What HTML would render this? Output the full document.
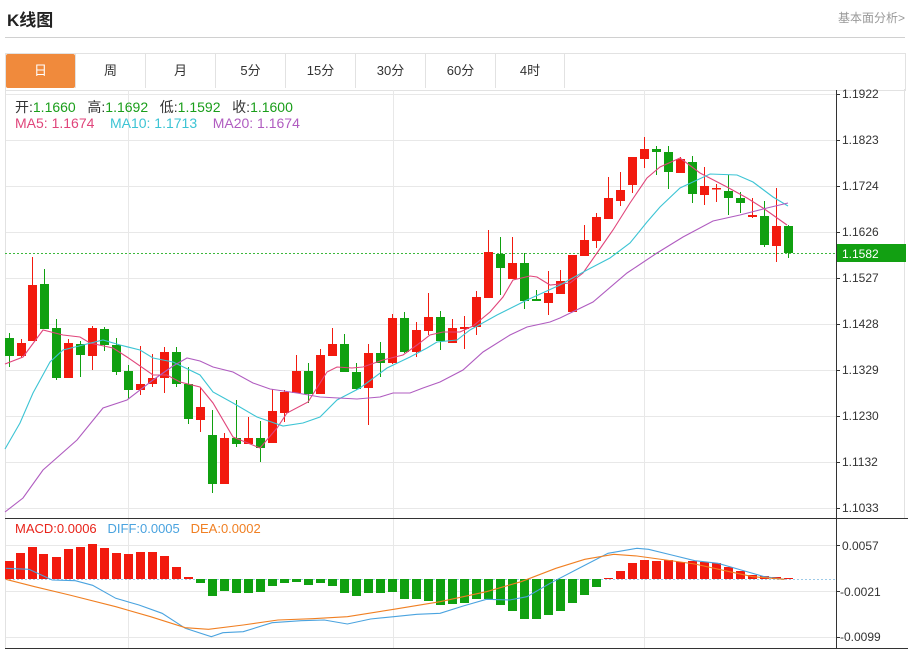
<!DOCTYPE html>
<html><head><meta charset="utf-8"><style>
body{margin:0;background:#fff;width:908px;height:651px;overflow:hidden;font-family:"Liberation Sans","Noto Sans CJK SC",sans-serif;}
.abs{position:absolute;white-space:nowrap}
</style></head><body>
<div style="position:relative;width:908px;height:651px">
<div class="abs" style="left:7px;top:6px;font-size:17px;font-weight:bold;color:#222">K线图</div>
<div class="abs" style="right:3px;top:9px;font-size:12px;color:#999">基本面分析&gt;</div>
<div class="abs" style="left:5px;top:37px;width:900px;height:1px;background:#d0d0d0"></div>
<div class="abs" style="left:5px;top:53px;width:899px;height:36px;border:1px solid #e2e2e2;border-bottom:1px solid #e2e2e2"></div>
<div class="abs" style="left:6px;top:54px;width:69px;height:34px;background:#f08a3c;border-radius:2px;color:#fff;font-size:13px;line-height:34px;text-align:center">日</div>
<div class="abs" style="left:75px;top:54px;font-size:13px;color:#333;line-height:34px;display:flex">
<div style="width:70px;text-align:center;border-left:1px solid #e2e2e2;box-sizing:border-box">周</div>
<div style="width:70px;text-align:center;border-left:1px solid #e2e2e2;box-sizing:border-box">月</div>
<div style="width:70px;text-align:center;border-left:1px solid #e2e2e2;box-sizing:border-box">5分</div>
<div style="width:70px;text-align:center;border-left:1px solid #e2e2e2;box-sizing:border-box">15分</div>
<div style="width:70px;text-align:center;border-left:1px solid #e2e2e2;box-sizing:border-box">30分</div>
<div style="width:70px;text-align:center;border-left:1px solid #e2e2e2;box-sizing:border-box">60分</div>
<div style="width:70px;text-align:center;border-left:1px solid #e2e2e2;border-right:1px solid #e2e2e2;box-sizing:border-box">4时</div>
</div>
<svg class="abs" style="left:0;top:0" width="908" height="651" id="s">
<g stroke="#e8e8e8" stroke-width="1" id="grid"></g>
<line x1="5.5" y1="89" x2="5.5" y2="648" stroke="#e2e2e2"/>
<line x1="904.5" y1="89" x2="904.5" y2="518" stroke="#e2e2e2"/>
<line x1="836.5" y1="90" x2="836.5" y2="648" stroke="#333"/>
<line x1="5" y1="518.5" x2="908" y2="518.5" stroke="#333"/>
<line x1="5" y1="648.5" x2="908" y2="648.5" stroke="#333"/>
<g id="ticks" stroke="#333"></g>
<line x1="5" y1="253.5" x2="836" y2="253.5" stroke="#3cb83c" stroke-dasharray="2,2"/>
<line x1="5" y1="579.5" x2="836" y2="579.5" stroke="#9ecbe8" stroke-dasharray="2,2"/>
<g id="macd"></g>
<g id="candles"></g>
<g id="lines" fill="none" stroke-width="1.1"></g>
<rect x="837" y="244" width="69" height="18" fill="#12a012"/>
<g font-size="12" fill="#333" font-family="Liberation Sans, sans-serif">
<text x="842" y="98">1.1922</text><text x="842" y="144">1.1823</text><text x="842" y="190">1.1724</text>
<text x="842" y="236">1.1626</text><text x="842" y="282">1.1527</text><text x="842" y="328">1.1428</text>
<text x="842" y="374">1.1329</text><text x="842" y="420">1.1230</text><text x="842" y="466">1.1132</text>
<text x="842" y="512">1.1033</text>
<text x="842" y="258" fill="#fff">1.1582</text>
<text x="842" y="550">0.0057</text><text x="840" y="596">-0.0021</text><text x="840" y="641">-0.0099</text>
</g>
</svg>
<div class="abs" style="left:15px;top:97px;font-size:14px;color:#333">开:<span style="color:#1a9e1a">1.1660</span>&nbsp;&nbsp; 高:<span style="color:#1a9e1a">1.1692</span>&nbsp;&nbsp; 低:<span style="color:#1a9e1a">1.1592</span>&nbsp;&nbsp; 收:<span style="color:#1a9e1a">1.1600</span></div>
<div class="abs" style="left:15px;top:115px;font-size:14px"><span style="color:#e0457b">MA5: 1.1674</span>&nbsp;&nbsp;&nbsp; <span style="color:#3cc4d4">MA10: 1.1713</span>&nbsp;&nbsp;&nbsp; <span style="color:#b05cc0">MA20: 1.1674</span></div>
<div class="abs" style="left:15px;top:521px;font-size:13px"><span style="color:#e8231a">MACD:0.0006</span>&nbsp;&nbsp; <span style="color:#4aa3df">DIFF:0.0005</span>&nbsp;&nbsp; <span style="color:#f07f22">DEA:0.0002</span></div>
</div>
<script>
var NS="http://www.w3.org/2000/svg";
function el(p,t,a){var e=document.createElementNS(NS,t);for(var k in a)e.setAttribute(k,a[k]);document.getElementById(p).appendChild(e);return e;}
[94,140,186,232,278,324,370,416,462,508,545,591,637].forEach(function(y){el("grid","line",{x1:5,x2:836,y1:y+.5,y2:y+.5});el("ticks","line",{x1:836,x2:840,y1:y+.5,y2:y+.5});});
[128,393,644].forEach(function(x){el("grid","line",{x1:x+.5,x2:x+.5,y1:90,y2:648});});
var C=[[9,'g',338,356,333,367],[21,'r',343,356,339,358],[32,'r',285,341,257,341],[44,'g',284,329,269,329],[56,'g',328,378,319,380],[68,'r',343,378,339,378],[80,'g',344,355,341,377],[92,'r',328,356,326,370],[104,'g',329,345,327,351],[116,'g',345,372,338,375],[128,'g',371,390,365,399],[140,'r',384,390,346,395],[152,'r',378,384,354,387],[164,'r',352,378,347,393],[176,'g',352,384,347,387],[188,'g',384,419,367,424],[200,'r',407,420,388,432],[212,'g',435,484,410,493],[224,'r',438,484,433,484],[236,'g',438,444,400,447],[248,'r',438,444,417,444],[260,'g',438,448,421,462],[272,'r',411,443,389,443],[284,'r',392,413,390,422],[296,'r',371,393,355,393],[308,'g',371,394,363,403],[320,'r',355,394,349,394],[332,'r',344,356,328,356],[344,'g',344,372,334,372],[356,'g',372,389,363,390],[368,'r',353,388,344,425],[380,'g',353,363,342,377],[392,'r',318,363,314,364],[404,'g',318,352,312,353],[416,'r',330,352,322,357],[428,'r',317,331,293,335],[440,'g',317,341,311,350],[452,'r',328,343,319,343],[464,'r',327,329,316,349],[476,'r',297,327,291,335],[488,'r',252,298,230,298],[500,'g',254,268,237,295],[512,'r',263,279,237,279],[524,'g',263,301,253,309],[536,'g',299,301,290,301],[548,'r',293,303,271,315],[560,'r',281,294,270,294],[572,'r',255,312,255,312],[584,'r',240,256,225,256],[596,'r',217,241,213,248],[608,'r',198,219,177,219],[620,'r',190,201,172,206],[632,'r',157,185,157,193],[644,'r',149,159,137,168],[656,'g',149,152,146,175],[668,'g',152,172,146,189],[680,'r',159,173,157,173],[692,'g',162,194,156,203],[704,'r',186,195,167,205],[716,'r',188,189,184,202],[728,'g',191,198,175,215],[740,'g',198,203,192,213],[752,'r',215,217,198,218],[764,'g',216,245,201,247],[776,'r',226,246,188,262],[788,'g',226,253,225,258]];
C.forEach(function(c){var col=c[1]=='r'?'#f21a0e':'#10a010';
el("candles","line",{x1:c[0]+.5,x2:c[0]+.5,y1:c[4],y2:c[5],stroke:col});
el("candles","rect",{x:c[0]-4,y:c[2],width:9,height:Math.max(1.5,c[3]-c[2]),fill:col});});
var M=[[9,561],[20,553],[32,547],[43,554],[56,557],[68,549],[80,547],[92,544],[104,548],[116,553],[128,554],[140,552],[152,552],[164,556],[176,567],[188,577],[200,583],[212,596],[224,591],[236,593],[248,593],[260,592],[272,586],[284,583],[296,582],[308,585],[320,583],[332,586],[344,593],[356,596],[368,593],[380,593],[392,592],[404,599],[416,599],[428,601],[440,605],[452,604],[464,603],[476,599],[488,599],[500,605],[512,611],[524,619],[536,619],[548,615],[560,611],[572,603],[584,595],[596,587],[608,578],[620,571],[632,563],[644,560],[656,561],[668,560],[680,562],[692,561],[704,562],[716,563],[728,567],[740,571],[752,575],[764,576],[776,577],[788,578]];
M.forEach(function(m){var z=579;var pos=m[1]<z;el("macd","rect",{x:m[0]-4,y:Math.min(m[1],z),width:9,height:Math.max(1,Math.abs(m[1]-z)),fill:pos?'#f21a0e':'#10a010'});});
function pl(pts,col){el("lines","polyline",{points:pts.map(function(p){return p.join(',')}).join(' '),stroke:col});}
pl([[5,364],[23,357],[43,330],[63,335],[80,337],[90,343],[113,348],[127,357],[153,375],[167,375],[180,382],[200,387],[213,403],[233,437],[260,448],[277,428],[287,413],[308,402],[327,372],[337,367],[352,368],[363,367],[383,360],[403,355],[417,345],[430,335],[443,332],[460,332],[473,326],[490,312],[503,297],[513,280],[530,276],[537,277],[550,285],[570,283],[583,273],[597,253],[613,230],[630,203],[647,178],[660,167],[680,158],[700,173],[727,187],[747,198],[763,208],[787,225]],'#e0457b');
pl([[5,449],[20,423],[33,393],[50,362],[63,350],[83,345],[103,340],[120,345],[140,350],[153,358],[173,362],[200,375],[213,392],[233,403],[257,417],[283,426],[303,423],[320,417],[337,400],[360,388],[387,368],[410,357],[427,348],[437,342],[457,340],[470,330],[497,315],[527,300],[560,285],[587,270],[610,258],[630,243],[647,222],[660,207],[680,188],[710,174],[737,175],[753,182],[773,197],[788,206]],'#3cc4d4');
pl([[5,512],[23,498],[43,470],[77,440],[103,408],[127,400],[153,380],[173,366],[187,358],[200,361],[213,367],[233,372],[253,383],[270,389],[297,393],[320,397],[357,399],[380,397],[393,393],[410,393],[423,388],[440,382],[463,370],[483,352],[510,335],[527,327],[550,322],[560,318],[593,302],[627,273],[657,253],[683,237],[713,221],[740,215],[767,208],[788,203]],'#b05cc0');
function mp(a,col){pl(a.map(function(p){return [ (p[0]/1.727).toFixed(1), (500+p[1]/3).toFixed(1)]}),col);}
mp([[10,205],[50,208],[90,240],[130,242],[160,256],[200,295],[240,315],[280,340],[320,385],[365,410],[385,398],[420,395],[470,368],[520,362],[560,360],[600,372],[640,357],[680,350],[720,343],[760,340],[800,318],[840,298],[880,300],[910,290],[950,250],[1000,205],[1050,160],[1100,145],[1120,148],[1160,165],[1200,182],[1240,190],[1280,210],[1320,230],[1355,238]],'#4aa3df');
mp([[10,238],[60,260],[120,285],[200,320],[260,350],[320,383],[360,388],[420,375],[480,360],[540,356],[600,350],[680,328],[760,305],[840,275],[900,245],[960,205],[1010,178],[1060,163],[1100,168],[1150,180],[1200,192],[1260,215],[1300,230],[1355,238]],'#f07f22');
</script>
</body></html>
